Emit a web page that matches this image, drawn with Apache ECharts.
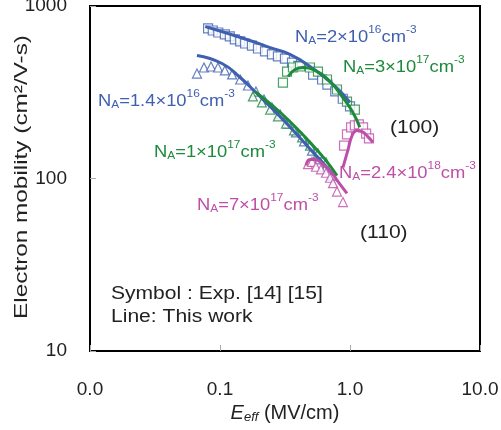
<!DOCTYPE html>
<html>
<head>
<meta charset="utf-8">
<script src="https://cdn.jsdelivr.net/npm/echarts@6/dist/echarts.min.js"></script>
<style>
  html, body { margin: 0; padding: 0; background: #fff; }
  #chart { width: 501px; height: 430px; }
</style>
</head>
<body>
<div id="chart"></div>
<script>
// x: Eeff (MV/cm), y: electron mobility (cm2/V-s)
var xTicks = [0.01, 0.1, 1, 10];
var yTicks = [10, 100, 1000];

// (100) NA=2e16 - symbols / line
var sq2e16 = [[0.081,741],[0.088,721],[0.097,702],[0.109,684],[0.119,666],[0.130,640],[0.143,623],[0.156,606],[0.176,590],[0.196,567],[0.222,545],[0.251,524],[0.279,510],[0.316,496],[0.358,470],[0.40,450],[0.52,400],[0.61,375],[0.67,350],[0.77,320],[0.88,290],[1.0,262]];
var ln2e16 = [[0.077,760],[0.179,623],[0.243,574],[0.345,524],[0.492,446],[0.740,351],[1.0,276]];

// (100) NA=3e17
var sq3e17 = [[0.305,360],[0.328,417],[0.364,440],[0.412,446],[0.492,440],[0.567,417],[0.665,375],[0.794,328],[0.948,279],[1.09,251]];
var ln3e17 = [[0.334,390],[0.378,428],[0.435,440],[0.538,423],[0.702,365],[0.867,299],[1.04,245],[1.19,198]];

// (110) NA=1.4e16
var tri14e16 = [[0.0665,406],[0.0753,440],[0.0853,446],[0.0965,440],[0.109,423],[0.124,401],[0.143,375],[0.164,346],[0.189,319],[0.218,287],[0.251,258],[0.290,235],[0.334,208],[0.384,185],[0.443,164],[0.510,145],[0.578,129],[0.654,116],[0.727,104]];
var ln14e16 = [[0.0665,516],[0.1036,464],[0.143,385],[0.189,315],[0.265,245],[0.378,185],[0.538,138],[0.767,103]];

// (110) NA=1e17
var tri1e17 = [[0.179,299],[0.210,276],[0.243,251],[0.279,229],[0.322,208],[0.371,190],[0.428,173],[0.492,155],[0.567,140],[0.654,124]];
var ln1e17 = [[0.186,319],[0.243,272],[0.345,214],[0.492,162],[0.643,129],[0.794,104]];

// (110) NA=7e17
var tri7e17 = [[0.475,121],[0.510,125],[0.547,117],[0.598,113],[0.654,108],[0.702,101],[0.740,94],[0.794,84],[0.883,73]];
var ln7e17 = [[0.459,119],[0.492,129],[0.538,129],[0.609,122],[0.702,111],[0.809,96],[0.948,82]];

// (100) NA=2.4e18
var sq24e18 = [[0.900,155],[0.948,180],[1.02,198],[1.09,203],[1.17,206],[1.26,198],[1.33,182],[1.40,171]];
var ln24e18 = [[0.883,116],[0.966,147],[1.04,178],[1.13,190],[1.24,187],[1.37,175],[1.50,162]];

var BLUE = "#3f5fb0";
var GREEN = "#1e8a3c";
var MAG = "#bd4fa9";
var FONT = "Liberation Sans, Arial, sans-serif";

function sym(data, shape, color, size) {
  return {
    type: "scatter",
    data: data,
    symbol: shape,
    symbolSize: size,
    itemStyle: { color: "#fff", borderColor: color, borderWidth: 1.2 },
    z: 2
  };
}
function line(data, color) {
  return {
    type: "line",
    data: data,
    showSymbol: false,
    smooth: true,
    lineStyle: { color: color, width: 3 },
    z: 3
  };
}

var rich = {
  b: { fontSize: 17, fontFamily: FONT, lineHeight: 22, verticalAlign: "bottom" },
  sub: { fontSize: 11, fontFamily: FONT, verticalAlign: "bottom", lineHeight: 22 },
  sup: { fontSize: 11, fontFamily: FONT, verticalAlign: "top", lineHeight: 22 }
};
function na(x, y, mant, exp, color) {
  return {
    type: "text",
    x: x,
    y: y,
    scaleX: 1.08,
    style: {
      text: "{b|N}{sub|A}{b|=" + mant + "×10}{sup|" + exp + "}{b|cm}{sup|-3}",
      fill: color,
      rich: rich
    }
  };
}
function plain(x, y, txt) {
  return {
    type: "text",
    x: x,
    y: y,
    scaleX: 1.17,
    style: { text: txt, fill: "#222", font: "18px " + FONT }
  };
}

var chart = echarts.init(document.getElementById("chart"));
chart.setOption({
  animation: false,
  grid: {
    left: 90, right: 21, top: 6, bottom: 79,
    containLabel: false, outerBoundsMode: "none",
    show: true, borderColor: "#000", borderWidth: 2
  },
  xAxis: {
    type: "log",
    logBase: 10,
    min: xTicks[0],
    max: xTicks[xTicks.length - 1],
    axisLine: { lineStyle: { color: "#000", width: 2 } },
    axisTick: { inside: true, length: 6, lineStyle: { color: "#aaa" } },
    splitLine: { show: false },
    axisLabel: {
      margin: 29,
      fontSize: 19,
      fontFamily: FONT,
      color: "#222",
      formatter: function (v) { return v.toFixed(1); }
    },
    name: "{i|E}{s|eff}{n| (MV/cm)}",
    nameLocation: "middle",
    nameGap: 48,
    nameTextStyle: {
      rich: {
        i: { fontSize: 20, fontStyle: "italic", fontFamily: FONT, color: "#222", lineHeight: 22, verticalAlign: "bottom" },
        s: { fontSize: 13, fontStyle: "italic", fontFamily: FONT, color: "#222", lineHeight: 22, verticalAlign: "bottom" },
        n: { fontSize: 20, fontFamily: FONT, color: "#222", lineHeight: 22, verticalAlign: "bottom" }
      }
    }
  },
  yAxis: {
    type: "log",
    logBase: 10,
    min: yTicks[0],
    max: yTicks[yTicks.length - 1],
    axisLine: { lineStyle: { color: "#000", width: 2 } },
    axisTick: { inside: true, length: 6, lineStyle: { color: "#aaa" } },
    splitLine: { show: false },
    axisLabel: {
      margin: 23, fontSize: 19, fontFamily: FONT, color: "#222",
      formatter: function (v) { return String(v); }
    }
  },
  series: [
    sym(sq2e16, "rect", BLUE, 9),
    sym(sq3e17, "rect", GREEN, 9),
    sym(tri14e16, "triangle", BLUE, 9),
    sym(tri1e17, "triangle", GREEN, 9),
    sym(tri7e17, "triangle", MAG, 9),
    sym(sq24e18, "rect", MAG, 9),
    line(ln2e16, BLUE),
    line(ln3e17, GREEN),
    line(ln14e16, BLUE),
    line(ln1e17, GREEN),
    line(ln7e17, MAG),
    line(ln24e18, MAG)
  ],
  graphic: [
    {
      type: "text",
      x: 22,
      y: 177,
      rotation: Math.PI / 2,
      scaleX: 1.28,
      style: {
        text: "Electron mobility (cm²/V-s)",
        font: "19px " + FONT,
        fill: "#222",
        align: "center",
        verticalAlign: "middle"
      }
    },
    na(295, 24, "2", "16", BLUE),
    na(343, 54, "3", "17", GREEN),
    na(98, 88, "1.4", "16", BLUE),
    na(154, 139, "1", "17", GREEN),
    na(339, 160, "2.4", "18", MAG),
    na(197, 192, "7", "17", MAG),
    plain(390, 119, "(100)"),
    plain(360, 224, "(110)"),
    plain(111, 285, "Symbol : Exp. [14] [15]"),
    plain(111, 308, "Line: This work")
  ]
});
</script>
</body>
</html>
